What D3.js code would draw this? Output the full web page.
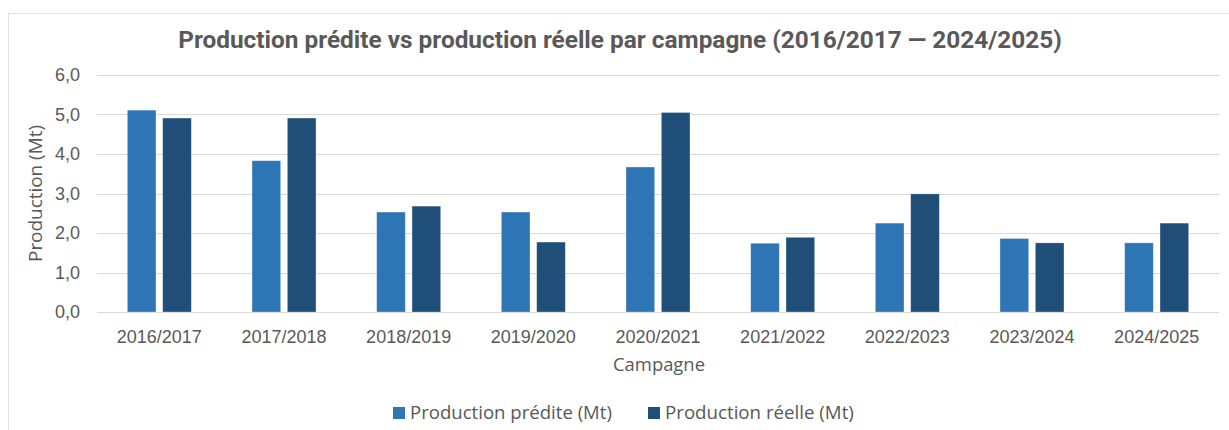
<!DOCTYPE html>
<html lang="fr">
<head>
<meta charset="utf-8">
<script src="https://cdn.jsdelivr.net/npm/d3@7"></script>
<style>
  html, body { margin: 0; padding: 0; background: #ffffff; }
  svg { display: block; }
  text { font-family: "Open Sans", "Liberation Sans", sans-serif; fill: #595959; }
</style>
</head>
<body>
<svg id="chart" width="1229" height="430"></svg>
<script>
// Campagnes agricoles (axe des catégories)
const campagnes = ["2016/2017", "2017/2018", "2018/2019", "2019/2020", "2020/2021",
                   "2021/2022", "2022/2023", "2023/2024", "2024/2025"];
// Production prédite, en millions de tonnes
const productionPredite = [5.11, 3.83, 2.53, 2.53, 3.67, 1.74, 2.25, 1.86, 1.75];
// Production réelle, en millions de tonnes
const productionReelle  = [4.91, 4.91, 2.68, 1.77, 5.05, 1.89, 2.99, 1.75, 2.25];
// Graduations de l'axe vertical
const yTicks = [0, 1, 2, 3, 4, 5, 6];
// Séries et libellés de légende
const seriesNames = ["Production prédite (Mt)", "Production réelle (Mt)"];
const seriesColors = ["#2E75B6", "#1F4E79"];

const titleText = "Production prédite vs production réelle par campagne (2016/2017 \u2014 2024/2025)";

const svg = d3.select("#chart");
const plot = { left: 97, right: 1219, top: 75, bottom: 312 };

// Fit a text element's font size so that it spans the given width
function fitWidth(sel, target) {
  const node = sel.node();
  const size = parseFloat(sel.attr("font-size"));
  const w = node.getComputedTextLength();
  if (w > 0) sel.attr("font-size", (size * target / w).toFixed(2));
  return sel;
}

// Chart frame
svg.append("rect")
  .attr("x", 8.5).attr("y", 13.5)
  .attr("width", 1300).attr("height", 500)
  .attr("fill", "#ffffff")
  .attr("stroke", "#e3e3e3").attr("stroke-width", 1);

// Scales
const x0 = d3.scaleBand()
  .domain(campagnes)
  .range([plot.left, plot.right])
  .paddingInner(0.487)
  .paddingOuter(0.2435);

const x1 = d3.scaleBand()
  .domain(d3.range(seriesNames.length))
  .range([0, x0.bandwidth()])
  .paddingInner(0.19);

const y = d3.scaleLinear()
  .domain([0, 6])
  .range([plot.bottom, plot.top]);

const fmt = v => d3.format(".1f")(v).replace(".", ",");

// Gridlines
svg.append("g")
  .selectAll("line")
  .data(yTicks)
  .join("line")
  .attr("x1", plot.left).attr("x2", plot.right)
  .attr("y1", d => Math.round(y(d)) + 0.5).attr("y2", d => Math.round(y(d)) + 0.5)
  .attr("stroke", "#d9d9d9").attr("stroke-width", 1.2);

// Y axis labels
const yAxis = svg.append("g")
  .attr("transform", `translate(${plot.left - 17},0)`)
  .call(d3.axisLeft(y).tickValues(yTicks).tickFormat(fmt).tickSize(0).tickPadding(0));
yAxis.select(".domain").remove();
yAxis.selectAll("text")
  .attr("font-size", 18)
  .attr("fill", "#595959")
  .style("font-family", "\"Liberation Sans\", sans-serif");

// X axis labels
const xAxis = svg.append("g")
  .attr("transform", `translate(0,${plot.bottom})`)
  .call(d3.axisBottom(x0).tickSize(0).tickPadding(0));
xAxis.select(".domain").remove();
xAxis.selectAll("text")
  .attr("dy", null)
  .attr("y", 31)
  .attr("font-size", 18)
  .attr("fill", "#595959")
  .style("font-family", "\"Liberation Sans\", sans-serif");

// Bars
const rows = campagnes.map((c, i) => ({ c, values: [productionPredite[i], productionReelle[i]] }));
svg.append("g")
  .selectAll("g")
  .data(rows)
  .join("g")
  .attr("transform", d => `translate(${x0(d.c)},0)`)
  .selectAll("rect")
  .data(d => d.values.map((v, k) => ({ v, k })))
  .join("rect")
  .attr("x", d => x1(d.k))
  .attr("width", x1.bandwidth())
  .attr("y", d => y(d.v))
  .attr("height", d => y(0) - y(d.v))
  .attr("fill", d => seriesColors[d.k])
  .attr("stroke", "#ffffff").attr("stroke-opacity", 0.35).attr("stroke-width", 0.8);

// Title
const title = svg.append("text")
  .attr("x", 620).attr("y", 48)
  .attr("text-anchor", "middle")
  .attr("font-size", 22)
  .attr("font-weight", 700)
  .attr("fill", "#595959")
  .style("font-family", "Roboto, \"Open Sans\", sans-serif")
  .text(titleText);
fitWidth(title, 884);

// Axis titles
const yTitle = svg.append("text")
  .attr("transform", `translate(42,${(plot.top + plot.bottom) / 2}) rotate(-90)`)
  .attr("text-anchor", "middle")
  .attr("font-size", 17)
  .attr("fill", "#595959")
  .text("Production (Mt)");
fitWidth(yTitle, 137);

const xTitle = svg.append("text")
  .attr("x", 659).attr("y", 371)
  .attr("text-anchor", "middle")
  .attr("font-size", 17)
  .attr("fill", "#595959")
  .text("Campagne");
fitWidth(xTitle, 92);

// Legend
const legendX = [393, 648];
const legendTextW = [202, 189];
const legend = svg.append("g");
seriesNames.forEach((name, k) => {
  const g = legend.append("g").attr("transform", `translate(${legendX[k]},0)`);
  g.append("rect")
    .attr("x", 0).attr("y", 407)
    .attr("width", 12).attr("height", 12)
    .attr("fill", seriesColors[k]);
  const t = g.append("text")
    .attr("x", 17).attr("y", 419)
    .attr("font-size", 18)
    .attr("fill", "#595959")
    .text(name);
  fitWidth(t, legendTextW[k]);
});
</script>
</body>
</html>
